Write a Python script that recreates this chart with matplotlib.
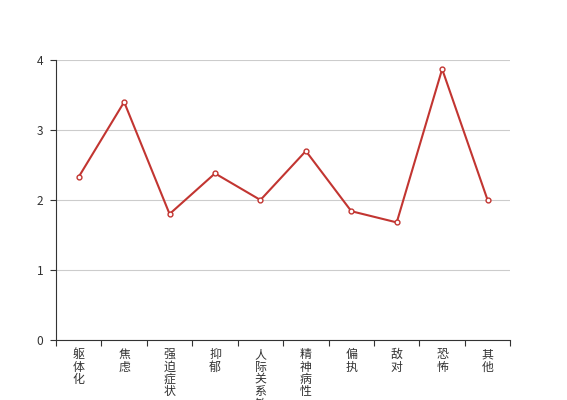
import matplotlib
matplotlib.use('Agg')
import matplotlib.pyplot as plt
import numpy as np

plt.rcParams['font.family'] = ['Noto Sans CJK SC', 'DejaVu Sans']

categories = ['躯体化', '焦虑', '强迫症状', '抑郁', '人际关系敏感', '精神病性', '偏执', '敌对', '恐怖', '其他']
values = [2.33, 3.40, 1.80, 2.38, 2.00, 2.70, 1.84, 1.68, 3.87, 2.00]

fig = plt.figure(figsize=(5.67, 4.0), dpi=100)
ax = fig.add_axes([56 / 567, 60 / 400, (510.3 - 56) / 567, 280 / 400])

x = np.arange(len(categories))
ax.plot(x, values, color='#c23531', linewidth=1.5, marker='o', markersize=3.5,
        markerfacecolor='white', markeredgecolor='#c23531', markeredgewidth=1, zorder=3,
        clip_on=False)

ax.set_xlim(-0.5, len(categories) - 0.5)
ax.set_ylim(0, 4)
ax.set_yticks([0, 1, 2, 3, 4])
ax.yaxis.grid(True, color='#cccccc', linewidth=0.8)
ax.set_axisbelow(True)

ax.set_xticks(x)
ax.set_xticklabels(['\n'.join(c) for c in categories], va='top', linespacing=0.93)
ax.set_xticks(np.arange(len(categories) + 1) - 0.5, minor=True)
ax.tick_params(axis='x', which='major', length=0, pad=6, labelsize=8.6, colors='#333333')
ax.tick_params(axis='x', which='minor', length=4, width=0.8, color='#333333', direction='out')
ax.tick_params(axis='y', length=4, width=0.8, color='#333333', pad=5, labelsize=8.6,
               labelcolor='#333333')

for s in ['top', 'right']:
    ax.spines[s].set_visible(False)
for s in ['left', 'bottom']:
    ax.spines[s].set_color('#333333')
    ax.spines[s].set_linewidth(0.8)

fig.savefig('out.png', dpi=100)
